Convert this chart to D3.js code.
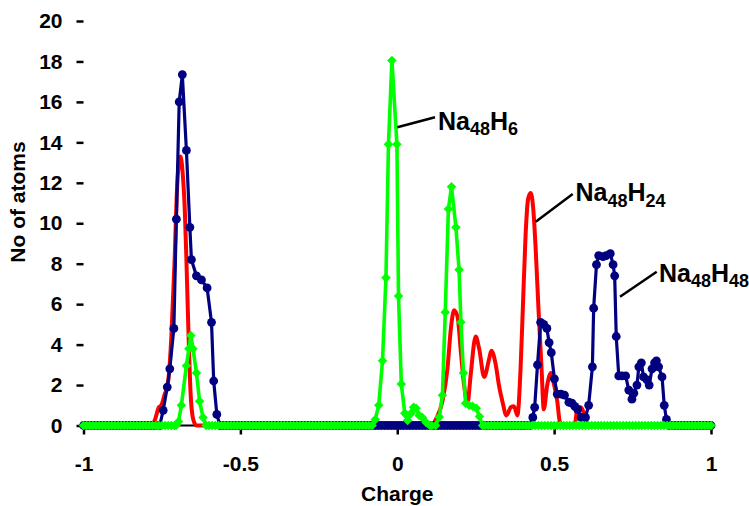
<!DOCTYPE html>
<html><head><meta charset="utf-8">
<script src="https://cdn.jsdelivr.net/npm/d3@7"></script>
<style>
body{margin:0;background:#fff}
svg{display:block}
text{font-family:"Liberation Sans",Arial,sans-serif;font-weight:bold;fill:#000}
</style>
</head><body>
<svg id="chart" width="749" height="506"></svg>
<script>
// ---------- data ----------
const yTickValues = [0,2,4,6,8,10,12,14,16,18,20];
const xTickValues = [-1,-0.5,0,0.5,1];
const xTickLabels = ["-1","-0.5","0","0.5","1"];
const xTitle = "Charge";
const yTitle = "No of atoms";

// charge grid on which the flat (zero) parts of every series are sampled
const gridStart = -1, gridEnd = 1, gridStep = 0.01;

// Na48H48 (navy, circles) – non-zero clusters
const h48Charge = [
  [-0.757,-0.746,-0.733,-0.725,-0.712,-0.704,-0.695,-0.685,-0.672,-0.661,-0.656,-0.640,-0.624,-0.606,-0.592,-0.585,-0.575,-0.565],
  [0.422,0.432,0.438,0.447,0.457,0.467,0.477,0.484,0.491,0.501,0.510,0.522,0.533,0.547,0.557,0.566,0.575,0.586,0.600,0.610,0.622,0.626,0.635,0.642,0.656,0.666,0.679,0.688,0.693,0.698,0.706,0.716,0.728,0.738,0.748,0.754,0.764,0.770,0.778,0.785,0.796,0.803,0.812,0.820,0.826,0.833,0.844,0.851,0.858,0.868]
];
const h48Count = [
  [0,0.75,1.9,2.8,4.8,10.2,16.0,17.35,13.6,9.8,8.2,7.4,7.2,6.8,5.1,2.2,0.55,0],
  [0,0.4,0.9,3.0,5.1,5.0,4.8,4.1,3.6,2.3,1.55,1.55,1.5,1.15,1.1,0.95,0.8,0.4,0.4,1.0,2.9,5.8,7.95,8.4,8.35,8.4,8.5,7.95,7.4,4.4,2.45,2.45,2.45,1.75,1.3,1.6,2.0,2.9,3.1,2.4,2.25,2.0,2.8,3.1,3.2,2.9,2.4,1.0,0.3,0]
];

// Na48H24 (red, no markers)
const h24Charge = [
  [-0.785,-0.772,-0.760,-0.752,-0.742,-0.730,-0.720,-0.710,-0.703,-0.696,-0.691,-0.684,-0.677,-0.672,-0.666,-0.659,-0.651,-0.640],
  [0.110,0.123,0.144,0.160,0.171,0.181,0.192,0.203,0.213,0.224,0.234,0.250,0.261,0.277,0.293,0.300,0.314,0.324,0.335,0.348,0.362,0.372,0.383,0.393,0.401,0.409,0.417,0.425,0.433,0.441,0.450,0.460,0.467,0.478,0.490,0.500,0.510,0.518,0.528],
  [0.565,0.575,0.585,0.595,0.605]
];
const h24Count = [
  [0,0.3,0.9,1.0,1.5,2.2,4.4,8.0,11.3,13.0,13.3,12.5,10.6,8.2,4.9,1.7,0.35,0],
  [0,0.3,1.2,2.8,4.8,5.7,5.4,3.6,2.0,1.1,2.5,4.4,3.8,2.4,3.3,3.7,3.0,2.0,1.2,0.5,0.9,0.95,0.5,2.8,6.1,9.4,11.2,11.5,10.8,8.8,5.8,2.8,0.8,2.0,2.6,2.0,1.2,0.2,0],
  [0,0.9,0.9,0.6,0]
];

// Na48H6 (green, diamonds)
const h6Charge = [
  [-0.705,-0.697,-0.688,-0.672,-0.664,-0.658,-0.651,-0.640,-0.630,-0.619,-0.609],
  [-0.080,-0.070,-0.059,-0.047,-0.036,-0.028,-0.017,-0.001,0.004,0.013,0.024,0.033,0.044,0.052,0.060,0.070,0.080,0.092,0.104],
  [0.122,0.134,0.144,0.153,0.163,0.173,0.187,0.197,0.203,0.211,0.218,0.229,0.240,0.252,0.262,0.272]
];
const h6Count = [
  [0,0.2,1.0,2.95,3.8,4.45,3.8,2.6,1.2,0.4,0],
  [0,0.3,1.0,3.2,7.3,13.9,18.05,13.9,6.4,2.05,0.6,0.25,0.6,0.9,0.85,0.5,0.4,0.15,0],
  [0,0.42,1.5,5.6,10.7,11.8,9.8,7.7,5.1,2.6,1.1,1.0,0.95,0.85,0.45,0]
];

// ---------- build point lists ----------
function buildSeries(chargeClusters, countClusters){
  const pts = [];
  chargeClusters.forEach((cs,i)=>cs.forEach((c,j)=>pts.push({c:c,v:countClusters[i][j]})));
  const ranges = chargeClusters.map(cs=>[cs[0],cs[cs.length-1]]);
  const grid = d3.range(gridStart, gridEnd + gridStep/2, gridStep);
  grid.forEach(g=>{
    const gc = Math.round(g*1000)/1000;
    if(!ranges.some(r=>gc>=r[0]-0.004 && gc<=r[1]+0.004)) pts.push({c:gc,v:0});
  });
  pts.sort((a,b)=>a.c-b.c);
  return pts;
}
const h48 = buildSeries(h48Charge,h48Count);
const h24 = buildSeries(h24Charge,h24Count);
const h6  = buildSeries(h6Charge,h6Count);

// ---------- layout ----------
const svg = d3.select("#chart");
const x = d3.scaleLinear().domain([-1,1]).range([83.5,711]);
const y = d3.scaleLinear().domain([0,20]).range([425.5,21]);
const FONT = "'Liberation Sans',Arial,sans-serif";

// x axis line
svg.append("line").attr("x1",x(-1)).attr("x2",x(1)).attr("y1",y(0)).attr("y2",y(0))
  .attr("stroke","#000").attr("stroke-width",2);

// x ticks
const xAxis = d3.axisBottom(x).tickValues(xTickValues).tickSize(9).tickFormat((d,i)=>xTickLabels[i]);
const gx = svg.append("g").attr("transform",`translate(0,${y(0)})`).call(xAxis);
gx.select(".domain").remove();
gx.selectAll(".tick line").attr("stroke","#000").attr("stroke-width",2.5);
gx.selectAll(".tick text").attr("dy",null).attr("y",45).style("font-size","21px")
  .style("font-family",FONT).style("font-weight","bold").attr("fill","#000");

// y ticks
const yAxis = d3.axisLeft(y).tickValues(yTickValues).tickSize(7).tickPadding(14);
const gy = svg.append("g").attr("transform",`translate(${x(-1)},0)`).call(yAxis);
gy.select(".domain").remove();
gy.selectAll(".tick line").attr("stroke","#000").attr("stroke-width",2.5);
gy.selectAll(".tick text").style("font-size","21px")
  .style("font-family",FONT).style("font-weight","bold").attr("fill","#000");

// axis titles
svg.append("text").attr("x",x(0)).attr("y",501).attr("text-anchor","middle")
  .style("font-size","21px").text(xTitle);
svg.append("text").attr("transform",`translate(25,202) rotate(-90)`)
  .attr("text-anchor","middle").style("font-size","21px").text(yTitle);

// ---------- series ----------
const lineLinear = d3.line().x(d=>x(d.c)).y(d=>y(d.v));
const lineSmooth = d3.line().x(d=>x(d.c)).y(d=>y(d.v)).curve(d3.curveMonotoneX);

// red (drawn first)
svg.append("path").datum(h24).attr("d",lineSmooth).attr("fill","none")
  .attr("stroke","#ff0000").attr("stroke-width",4).attr("stroke-linejoin","round");

// navy with circles
svg.append("path").datum(h48).attr("d",lineLinear).attr("fill","none")
  .attr("stroke","#000080").attr("stroke-width",3.2).attr("stroke-linejoin","round");
svg.append("g").selectAll("circle").data(h48).join("circle")
  .attr("cx",d=>x(d.c)).attr("cy",d=>y(d.v)).attr("r",4.4).attr("fill","#000080");

// green with diamonds
svg.append("path").datum(h6).attr("d",lineLinear).attr("fill","none")
  .attr("stroke","#00ff00").attr("stroke-width",3.6).attr("stroke-linejoin","round");
const diamond = d3.symbol().type(d3.symbolDiamond2).size(58);
svg.append("g").selectAll("path").data(h6).join("path")
  .attr("transform",d=>`translate(${x(d.c)},${y(d.v)})`).attr("d",diamond).attr("fill","#00ff00");

// ---------- series labels with leader lines ----------
const labels = [
  {name:"Na", sub1:"48", h:"H", sub2:"6",  tx:438, ty:129.5, lx1:397.3, ly1:127.3, lx2:435, ly2:117.3},
  {name:"Na", sub1:"48", h:"H", sub2:"24", tx:575.5, ty:201, lx1:535.7, ly1:221.7, lx2:572.7, ly2:194},
  {name:"Na", sub1:"48", h:"H", sub2:"48", tx:659, ty:281.5, lx1:620, ly1:296.7, lx2:656.7, ly2:271.7}
];
labels.forEach(l=>{
  svg.append("line").attr("x1",l.lx1).attr("y1",l.ly1).attr("x2",l.lx2).attr("y2",l.ly2)
    .attr("stroke","#000").attr("stroke-width",2.5);
  const t = svg.append("text").attr("x",l.tx).attr("y",l.ty).style("font-size","25px");
  t.append("tspan").text(l.name);
  t.append("tspan").attr("dy",5.5).style("font-size","18px").text(l.sub1);
  t.append("tspan").attr("dy",-5.5).text(l.h);
  t.append("tspan").attr("dy",5.5).style("font-size","18px").text(l.sub2);
});
</script>
</body></html>
